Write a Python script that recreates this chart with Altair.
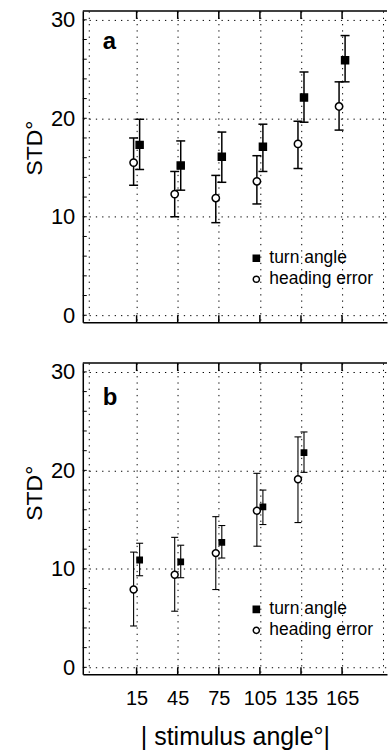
import altair as alt
import pandas as pd

# ---------------- data ----------------
angles = [15, 45, 75, 105, 135, 165]
series_names = ["turn angle", "heading error"]
panel_labels = ["a", "b"]

# panel a
a_turn = [17.3, 15.2, 16.1, 17.1, 22.1, 25.9]
a_turn_lo = [14.8, 12.7, 13.5, 14.6, 19.6, 23.7]
a_turn_hi = [19.9, 17.7, 18.6, 19.4, 24.7, 28.4]
a_head = [15.5, 12.3, 11.9, 13.6, 17.4, 21.2]
a_head_lo = [13.2, 10.0, 9.4, 11.3, 14.9, 18.8]
a_head_hi = [18.0, 14.6, 14.2, 16.2, 19.7, 23.7]

# panel b (no 165 point)
b_angles = [15, 45, 75, 105, 135]
b_turn = [10.9, 10.7, 12.7, 16.3, 21.8]
b_turn_lo = [9.3, 9.1, 11.1, 14.5, 19.8]
b_turn_hi = [12.6, 12.4, 14.4, 18.0, 23.9]
b_head = [7.9, 9.4, 11.6, 15.9, 19.1]
b_head_lo = [4.2, 5.7, 7.9, 12.3, 14.7]
b_head_hi = [11.7, 13.2, 15.3, 19.7, 23.4]

x_ticks = angles
x_grid = [-20, 15, 45, 75, 105, 135, 165, 195]
y_labels = [0, 10, 20, 30]
y_minor = list(range(0, 31, 2))

x_title = "| stimulus angle°|"
y_title = "STD°"

# ---------------- styling ----------------
W, H = 305, 312
XDOM = [-24.3, 197.8]
YDOM = [-0.7, 30.9]
FONT = "Liberation Sans"


def panel_df(ang, turn, tlo, thi, head, hlo, hhi):
    rows = []
    for i, a in enumerate(ang):
        rows.append(dict(angle=a, series=series_names[0], v=turn[i], lo=tlo[i], hi=thi[i]))
        rows.append(dict(angle=a, series=series_names[1], v=head[i], lo=hlo[i], hi=hhi[i]))
    return pd.DataFrame(rows)


def make_panel(df, label, label_y, title_y, legend_y, bottom, sizes, bar_w, cap):
    xs = alt.Scale(domain=XDOM, nice=False, zero=False)
    ys = alt.Scale(domain=YDOM, nice=False, zero=False)
    xaxis = alt.Axis(
        values=x_grid, grid=True, gridDash=[1.3, 5], gridColor="black", gridWidth=1,
        ticks=False, domain=True, domainColor="black", domainWidth=1.5,
        labels=bottom,
        labelExpr="(datum.value >= 15 && datum.value <= 165) ? datum.label : ''",
        labelFontSize=20, labelFont=FONT, labelColor="black", labelPadding=14,
        titleFontSize=25, titleFont=FONT, titleFontWeight="normal", titleColor="black",
        titlePadding=16,
    )
    yaxis = alt.Axis(
        values=y_labels, grid=True, gridDash=[1.3, 5], gridColor="black", gridWidth=1,
        ticks=False, domain=True, domainColor="black", domainWidth=1.5,
        labelFontSize=22, labelFont=FONT, labelColor="black", labelPadding=8,
        titleFontSize=23, titleFont=FONT, titleFontWeight="normal", titleColor="black",
        titleX=-41, titleY=title_y, titleBaseline="alphabetic", titleAlign="center",
    )
    xt = x_title if bottom else None

    def X(field):
        return alt.X(field, type="quantitative", scale=xs, axis=xaxis, title=xt)

    def Y(field):
        return alt.Y(field, type="quantitative", scale=ys, axis=yaxis, title=y_title)

    shape_scale = alt.Scale(domain=series_names, range=["square", "circle"])
    fill_scale = alt.Scale(domain=series_names, range=["black", "white"])

    base = alt.Chart(df).transform_calculate(
        xp="datum.angle + (datum.series == 'turn angle' ? 2.2 : -2.2)"
    )
    bars = base.mark_rule(color="black", strokeWidth=bar_w).encode(
        x=X("xp"), y=Y("lo"), y2="hi:Q"
    )
    cap_lo = base.mark_tick(orient="horizontal", color="black", size=cap,
                            thickness=bar_w, opacity=1).encode(x=X("xp"), y=Y("lo"))
    cap_hi = base.mark_tick(orient="horizontal", color="black", size=cap,
                            thickness=bar_w, opacity=1).encode(x=X("xp"), y=Y("hi"))

    pts = base.mark_point(opacity=1, stroke="black", strokeWidth=1.5).encode(
        x=X("xp"), y=Y("v"),
        shape=alt.Shape("series:N", scale=shape_scale, legend=None),
        fill=alt.Fill("series:N", scale=fill_scale, legend=None),
        size=alt.Size("series:N", scale=alt.Scale(domain=series_names, range=sizes), legend=None),
    )

    # hand-made legend entries inside the plot, drawn through the same shape/fill scales
    legend_layers = []
    for i, name in enumerate(series_names):
        entry = pd.DataFrame({"series": [name]})
        ly = legend_y + 21 * i
        legend_layers.append(
            alt.Chart(entry).mark_point(opacity=1, stroke="black", strokeWidth=1.5, size=38).encode(
                x=alt.value(174), y=alt.value(ly),
                shape=alt.Shape("series:N", scale=shape_scale, legend=None),
                fill=alt.Fill("series:N", scale=fill_scale, legend=None),
            )
        )
        legend_layers.append(
            alt.Chart(entry).mark_text(fontSize=17.5, font=FONT, align="left", baseline="middle",
                                       color="black").encode(
                text="series:N", x=alt.value(187), y=alt.value(ly)
            )
        )

    tick_df = pd.DataFrame({"xp": x_ticks})
    top_ticks = alt.Chart(tick_df).mark_rule(color="black", strokeWidth=1.5).encode(
        x=X("xp"), y=alt.value(0), y2=alt.value(8)
    )
    bot_ticks = alt.Chart(tick_df).mark_rule(color="black", strokeWidth=1.5).encode(
        x=X("xp"), y=alt.value(H), y2=alt.value(H - 7)
    )
    minor_df = pd.DataFrame({"v": y_minor})
    y_ticks = alt.Chart(minor_df).mark_rule(color="black", strokeWidth=1).encode(
        y=Y("v"), x=alt.value(0), x2=alt.value(4)
    )
    one = pd.DataFrame({"k": [0]})
    top_frame = alt.Chart(one).mark_rule(color="black", strokeWidth=1.5).encode(
        x=alt.value(0), x2=alt.value(W), y=alt.value(0)
    )
    lab = alt.Chart(pd.DataFrame({"t": [label]})).mark_text(
        fontSize=24, fontWeight="bold", font=FONT, align="left", baseline="alphabetic", color="black"
    ).encode(text="t:N", x=alt.value(20), y=alt.value(label_y))

    return alt.layer(
        top_frame, top_ticks, bot_ticks, y_ticks, bars, cap_lo, cap_hi, pts, lab, *legend_layers
    ).properties(width=W, height=H)


df_a = panel_df(angles, a_turn, a_turn_lo, a_turn_hi, a_head, a_head_lo, a_head_hi)
df_b = panel_df(b_angles, b_turn, b_turn_lo, b_turn_hi, b_head, b_head_lo, b_head_hi)

pa = make_panel(df_a, panel_labels[0], 38, 137, 248, False, [49, 54], 1.5, 9)
pb = make_panel(df_b, panel_labels[1], 42, 130, 247, True, [28, 48], 1.1, 7)

chart = alt.vconcat(pa, pb, spacing=33).resolve_scale(
    shape="independent", fill="independent", size="independent"
).properties(
    padding={"left": 24, "top": 7, "right": 0, "bottom": 0}
).configure_view(strokeWidth=0)

chart.save("out.html", embed_options={"renderer": "svg", "actions": False})
